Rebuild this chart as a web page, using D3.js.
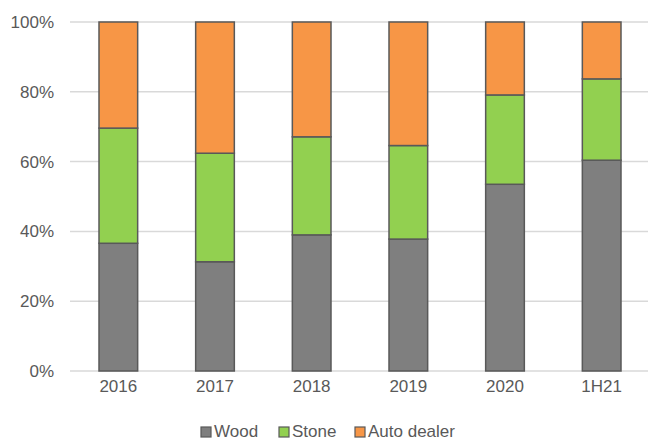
<!DOCTYPE html>
<html>
<head>
<meta charset="utf-8">
<script src="https://cdn.jsdelivr.net/npm/d3@7"></script>
<style>
  body { margin: 0; background: #fff; }
  svg { display: block; font-family: "Liberation Sans", Arial, sans-serif; }
</style>
</head>
<body>
<div id="chart"></div>
<script>
var years = ["2016", "2017", "2018", "2019", "2020", "1H21"];
var wood = [36.6, 31.3, 39.0, 37.8, 53.5, 60.4];
var stone = [33.0, 31.1, 28.1, 26.8, 25.6, 23.3];
var autoDealer = [30.4, 37.6, 32.9, 35.4, 20.9, 16.3];
var seriesNames = ["Wood", "Stone", "Auto dealer"];
var colors = ["#7f7f7f", "#92d050", "#f79646"];
var yTicks = [0, 20, 40, 60, 80, 100];

var w = 648;
var h = 441;

// plot area (window.top is reserved, so use other names)
var plotLeft = 70;
var plotRight = 650;
var plotTop = 22;
var plotBottom = 371;

var dataset = years.map(function (y, i) {
    return { year: y, "Wood": wood[i], "Stone": stone[i], "Auto dealer": autoDealer[i] };
});

var stack = d3.stack().keys(seriesNames);
var series = stack(dataset);

var xScale = d3.scaleBand().domain(years).range([plotLeft, plotRight]).paddingInner(0.6).paddingOuter(0.3);
var yScale = d3.scaleLinear().domain([0, 100]).range([plotBottom, plotTop]);

var svg = d3.select("#chart").append("svg").attr("width", w).attr("height", h);

// gridlines
svg.append("g").selectAll("line")
    .data(yTicks)
    .enter()
    .append("line")
    .attr("x1", plotLeft)
    .attr("x2", w)
    .attr("y1", function (d) { return yScale(d); })
    .attr("y2", function (d) { return yScale(d); })
    .attr("stroke", "#d9d9d9")
    .attr("stroke-width", 1.5);

// y labels
svg.append("g").selectAll("text")
    .data(yTicks)
    .enter()
    .append("text")
    .attr("x", 54)
    .attr("y", function (d) { return yScale(d); })
    .attr("dy", "0.35em")
    .attr("text-anchor", "end")
    .attr("fill", "#595959")
    .attr("font-size", "17px")
    .text(function (d) { return d + "%"; });

// bars
var groups = svg.selectAll("g.series")
    .data(series)
    .enter()
    .append("g")
    .attr("class", "series")
    .attr("fill", function (d, i) { return colors[i]; });

groups.selectAll("rect")
    .data(function (d) { return d; })
    .enter()
    .append("rect")
    .attr("x", function (d) { return xScale(d.data.year); })
    .attr("y", function (d) { return yScale(d[1]); })
    .attr("width", xScale.bandwidth())
    .attr("height", function (d) { return yScale(d[0]) - yScale(d[1]); })
    .attr("stroke", "#595959")
    .attr("stroke-width", 1.5);

// x labels
svg.append("g").selectAll("text")
    .data(years)
    .enter()
    .append("text")
    .attr("x", function (d) { return xScale(d) + xScale.bandwidth() / 2; })
    .attr("y", 392)
    .attr("text-anchor", "middle")
    .attr("fill", "#595959")
    .attr("font-size", "17px")
    .text(function (d) { return d; });

// legend
var legX = [201, 279, 355];
var legend = svg.selectAll(".legend")
    .data(seriesNames)
    .enter()
    .append("g")
    .attr("class", "legend");

legend.append("rect")
    .attr("x", function (d, i) { return legX[i]; })
    .attr("y", 427)
    .attr("width", 10)
    .attr("height", 10)
    .attr("fill", function (d, i) { return colors[i]; })
    .attr("stroke", "#595959")
    .attr("stroke-width", 1.2);

legend.append("text")
    .attr("x", function (d, i) { return legX[i] + 13; })
    .attr("y", 437)
    .attr("fill", "#595959")
    .attr("font-size", "17px")
    .text(function (d) { return d; });
</script>
</body>
</html>
